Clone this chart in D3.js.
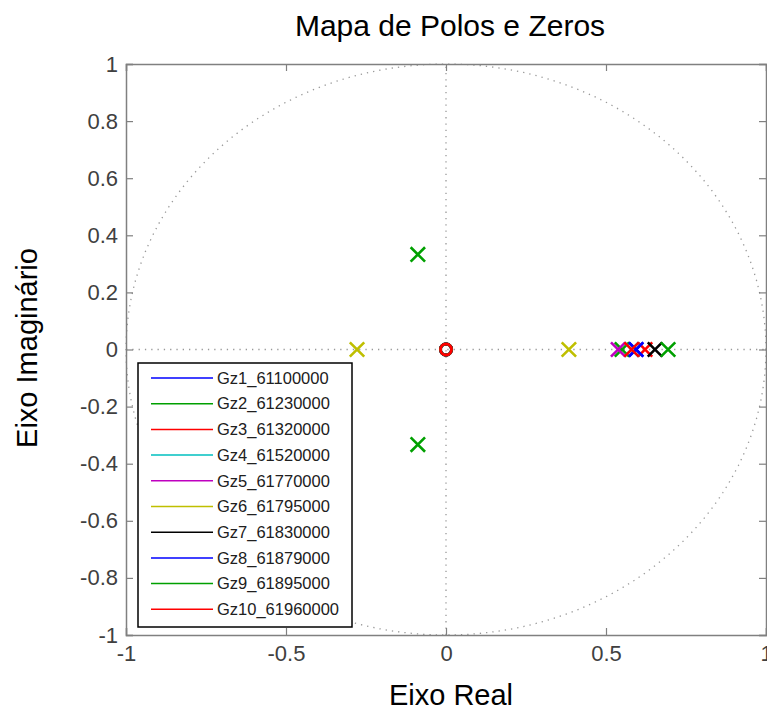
<!DOCTYPE html>
<html>
<head>
<meta charset="utf-8">
<script src="https://cdn.jsdelivr.net/npm/d3@7"></script>
<style>
  body { margin: 0; background: #fff; }
  svg text { font-family: Arial, "Liberation Sans", sans-serif; }
</style>
</head>
<body>
<div class="d3-here"></div>
<script>
// data
var seriesNames = ['Gz1_61100000', 'Gz2_61230000', 'Gz3_61320000', 'Gz4_61520000', 'Gz5_61770000',
  'Gz6_61795000', 'Gz7_61830000', 'Gz8_61879000', 'Gz9_61895000', 'Gz10_61960000'];
var seriesColors = ['#0000ff', '#00a000', '#ff0000', '#00bfbf', '#bf00bf',
  '#bfbf00', '#000000', '#0000ff', '#00a000', '#ff0000'];
// poles per series: [re, im]
var poles = [
  [[0.594, 0]],
  [[0.550, 0]],
  [[0.622, 0]],
  [[0.580, 0]],
  [[0.538, 0]],
  [[-0.278, 0], [0.384, 0]],
  [[0.653, 0]],
  [[0.594, 0]],
  [[-0.088, 0.333], [-0.088, -0.333], [0.694, 0]],
  [[0.580, 0]]
];
// zeros per series
var zeros = [
  [[0, 0]], [[0, 0]], [[0, 0]], [[0, 0]], [[0, 0]],
  [[0, 0]], [[0, 0]], [[0, 0]], [[0, 0]], [[0, 0]]
];
var ticksX = [-1, -0.5, 0, 0.5, 1];
var ticksY = [-1, -0.8, -0.6, -0.4, -0.2, 0, 0.2, 0.4, 0.6, 0.8, 1];

// layout
var width = 767, height = 711;
var pLeft = 126, pRight = 766, pTop = 64, pBottom = 635;
var axisColor = '#808080';
var textColor = '#404040';
var fmt = function(d) { return String(d); };

var x = d3.scaleLinear().domain([-1, 1]).range([pLeft, pRight]);
var y = d3.scaleLinear().domain([-1, 1]).range([pBottom, pTop]);

var svg = d3.select('.d3-here').append('svg')
  .attr('width', width)
  .attr('height', height);

// unit circle + dotted axis lines
var circle = d3.range(0, 361, 2).map(function(a) {
  var t = a * Math.PI / 180;
  return [Math.cos(t), Math.sin(t)];
});
svg.append('path')
  .datum(circle)
  .attr('d', d3.line().x(function(d) { return x(d[0]); }).y(function(d) { return y(d[1]); }))
  .attr('fill', 'none')
  .attr('stroke', '#999')
  .attr('stroke-width', 1.3)
  .attr('stroke-dasharray', '1.3,5');

svg.append('line')
  .attr('x1', x(-1)).attr('x2', x(1)).attr('y1', y(0)).attr('y2', y(0))
  .attr('stroke', '#999').attr('stroke-width', 1.3).attr('stroke-dasharray', '1.3,5');
svg.append('line')
  .attr('x1', x(0)).attr('x2', x(0)).attr('y1', y(-1)).attr('y2', y(1))
  .attr('stroke', '#999').attr('stroke-width', 1.3).attr('stroke-dasharray', '1.3,5');

// axes (ticks inward)
var axB = svg.append('g').attr('transform', 'translate(0,' + pBottom + ')')
  .call(d3.axisBottom(x).tickValues(ticksX).tickSize(-7).tickPadding(10).tickFormat(fmt));
var axL = svg.append('g').attr('transform', 'translate(' + pLeft + ',0)')
  .call(d3.axisLeft(y).tickValues(ticksY).tickSize(-7).tickPadding(8).tickFormat(fmt));
var axT = svg.append('g').attr('transform', 'translate(0,' + pTop + ')')
  .call(d3.axisTop(x).tickValues(ticksX).tickSize(-7).tickFormat(''));
var axR = svg.append('g').attr('transform', 'translate(' + pRight + ',0)')
  .call(d3.axisRight(y).tickValues(ticksY).tickSize(-7).tickFormat(''));

[axB, axL, axT, axR].forEach(function(g) {
  g.select('.domain').attr('stroke', axisColor).attr('stroke-width', 1.5);
  g.selectAll('.tick line').attr('stroke', axisColor).attr('stroke-width', 1.2);
  g.selectAll('.tick text').attr('fill', textColor).style('font-size', '22px');
});

// zeros
var zeroData = [];
zeros.forEach(function(list, i) {
  list.forEach(function(p) { zeroData.push({ re: p[0], im: p[1], c: seriesColors[i] }); });
});
svg.append('g').selectAll('circle')
  .data(zeroData)
  .enter()
  .append('circle')
  .attr('cx', function(d) { return x(d.re); })
  .attr('cy', function(d) { return y(d.im); })
  .attr('r', 5.5)
  .attr('fill', 'none')
  .attr('stroke', function(d) { return d.c; })
  .attr('stroke-width', 2.8);

// poles
var poleData = [];
poles.forEach(function(list, i) {
  list.forEach(function(p) { poleData.push({ re: p[0], im: p[1], c: seriesColors[i] }); });
});
var s = 7.2;
svg.append('g').selectAll('path')
  .data(poleData)
  .enter()
  .append('path')
  .attr('d', function(d) {
    var cx = x(d.re), cy = y(d.im);
    return 'M' + (cx - s) + ',' + (cy - s) + 'L' + (cx + s) + ',' + (cy + s) +
      'M' + (cx - s) + ',' + (cy + s) + 'L' + (cx + s) + ',' + (cy - s);
  })
  .attr('stroke', function(d) { return d.c; })
  .attr('stroke-width', 2.6)
  .attr('fill', 'none');

// legend
var lg = svg.append('g');
lg.append('rect')
  .attr('x', 138).attr('y', 363).attr('width', 214).attr('height', 264)
  .attr('fill', '#fff').attr('stroke', '#000').attr('stroke-width', 1.5);
var rows = lg.selectAll('.row')
  .data(seriesNames)
  .enter()
  .append('g')
  .attr('transform', function(d, i) { return 'translate(0,' + (378 + i * 25.7) + ')'; });
rows.append('line')
  .attr('x1', 151).attr('x2', 213).attr('y1', 0).attr('y2', 0)
  .attr('stroke', function(d, i) { return seriesColors[i]; })
  .attr('stroke-width', 1.5);
rows.append('text')
  .attr('x', 217).attr('y', 0).attr('dy', '0.35em')
  .style('font-size', '16.5px')
  .attr('fill', '#202020')
  .text(function(d) { return d; });

// titles
svg.append('text')
  .attr('x', 450).attr('y', 36)
  .attr('text-anchor', 'middle')
  .style('font-size', '30px')
  .text('Mapa de Polos e Zeros');
svg.append('text')
  .attr('x', 451).attr('y', 705)
  .attr('text-anchor', 'middle')
  .style('font-size', '29px')
  .text('Eixo Real');
svg.append('text')
  .attr('transform', 'translate(37,' + 348 + ') rotate(-90)')
  .attr('text-anchor', 'middle')
  .style('font-size', '29px')
  .text('Eixo Imaginário');
</script>
</body>
</html>
